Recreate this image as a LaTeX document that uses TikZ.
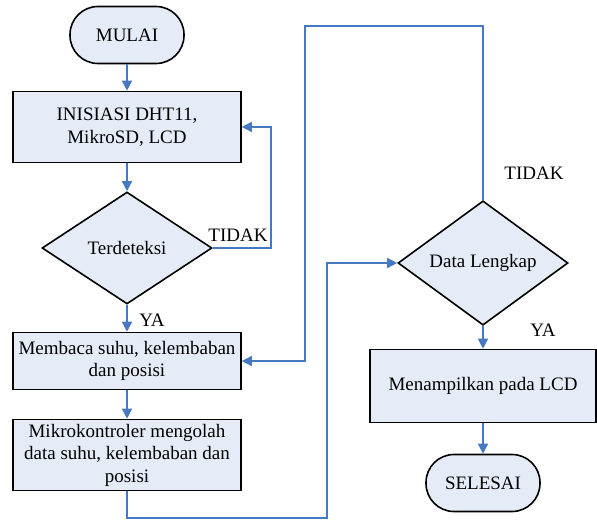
\documentclass[tikz,border=0pt]{standalone}
\usepackage{fontspec}
\setmainfont{Liberation Serif}
\usetikzlibrary{shapes.geometric,arrows.meta}
\definecolor{isian}{RGB}{230,236,247}
\definecolor{garis}{RGB}{70,120,196}
\tikzset{
	terminal/.style={draw,fill=isian,line width=1.6pt,rounded corners=28pt,minimum width=114pt,minimum height=57pt,inner sep=0pt},
	proses/.style={draw,fill=isian,line width=1.6pt,minimum width=228pt,align=center,inner sep=0pt},
	keputusan/.style={draw,fill=isian,diamond,line width=1.6pt,minimum width=170pt,minimum height=112pt,inner sep=0pt},
	alur/.style={draw=garis,line width=1.6pt,-{Triangle[length=10pt,width=10pt]}}
}

\begin{document}
\begin{tikzpicture}[x=1pt,y=-1pt,every node/.style={font=\fontsize{19}{22.5}\selectfont}]
	\useasboundingbox (0,0) rectangle (597,521);
	\node[terminal] (mulai) at (127,35) {MULAI};
	\node[proses,minimum height=71pt] (inisiasi) at (127,127) {INISIASI DHT11,\\MikroSD, LCD};
	\node[keputusan] (deteksi) at (127,248) {Terdeteksi};
	\node[proses,minimum height=57pt] (membaca) at (127,361) {Membaca suhu, kelembaban\\dan posisi};
	\node[proses,minimum height=71pt] (olah) at (127,455) {Mikrokontroler mengolah\\data suhu, kelembaban dan\\posisi};
	\node[keputusan] (lengkap) at (483,263) {Data Lengkap};
	\node[proses,minimum width=226pt,minimum height=73pt] (tampil) at (483,386) {Menampilkan pada LCD};
	\node[terminal] (selesai) at (483,483) {SELESAI};
	
	\node (tidak1) at (238,235) {TIDAK};
	\node (ya1) at (152,320) {YA};
	\node (tidak2) at (534,173) {TIDAK};
	\node (ya2) at (543,330) {YA};
	
	\coordinate (belok1) at (327,518);
	\coordinate (belok2) at (305,26);
	
	\draw[alur] (mulai) -- (inisiasi);
	\draw[alur] (inisiasi) -- (deteksi);
	\draw[alur] (deteksi.east) -| ([xshift=29pt]inisiasi.east) -- (inisiasi.east);
	\draw[alur] (deteksi.south) -- (membaca.north);
	\draw[alur] (membaca) -- (olah);
	\draw[alur] (olah.south) |- (belok1) |- (lengkap.west);
	\draw[alur] (lengkap.north) |- (belok2) |- (membaca.east);
	\draw[alur] (lengkap.south) -- (tampil.north);
	\draw[alur] (tampil) -- (selesai);
\end{tikzpicture}
\end{document}
